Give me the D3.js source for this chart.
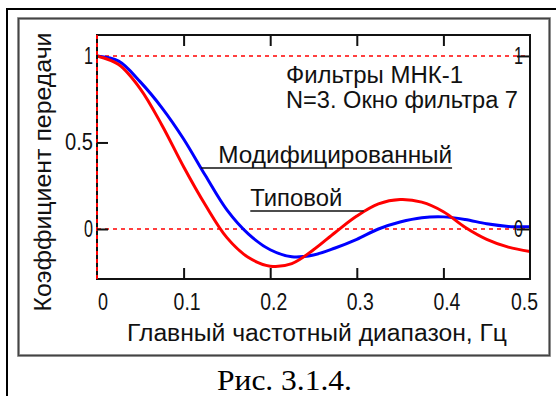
<!DOCTYPE html>
<html>
<head>
<meta charset="utf-8">
<script src="https://cdn.jsdelivr.net/npm/d3@7"></script>
<style>
  body { margin: 0; background: #fff; }
  svg { display: block; }
</style>
</head>
<body>
<script>
// frequency grid, Hz
var freq = [0, 0.025, 0.05, 0.075, 0.1, 0.125, 0.15, 0.175, 0.2, 0.225, 0.25,
            0.275, 0.3, 0.325, 0.35, 0.375, 0.4, 0.425, 0.45, 0.475, 0.5];
// "Типовой" (red)
var typical = [1.00, 0.95, 0.81, 0.60, 0.36, 0.14, -0.05, -0.165, -0.215, -0.20, -0.12,
               -0.02, 0.075, 0.145, 0.17, 0.155, 0.10, 0.01, -0.06, -0.105, -0.13];
// "Модифицированный" (blue)
var modified = [1.00, 0.97, 0.85, 0.70, 0.52, 0.31, 0.11, -0.03, -0.12, -0.16, -0.15,
                -0.11, -0.06, 0.0, 0.04, 0.065, 0.07, 0.055, 0.03, 0.015, 0.013];

var xTicks = [0, 0.1, 0.2, 0.3, 0.4, 0.5];
var xTickLabels = ["0", "0.1", "0.2", "0.3", "0.4", "0.5"];
var yTicksLeft = [1, 0.5, 0];
var yTickLabelsLeft = ["1", "0.5", "0"];
var yTicksRight = [1, 0];
var yTickLabelsRight = ["1", "0"];
var refLines = [1, 0];

var W = 556, H = 396;
var font = "'Liberation Sans', Arial, sans-serif";

var svg = d3.select("body").append("svg")
    .attr("width", W)
    .attr("height", H);

// frames
svg.append("rect")
    .attr("x", 7).attr("y", 9)
    .attr("width", 560).attr("height", 400)
    .style("fill", "none").style("stroke", "#000").style("stroke-width", 2);
svg.append("rect")
    .attr("x", 18.5).attr("y", 18.5)
    .attr("width", 531).attr("height", 337)
    .style("fill", "none").style("stroke", "#aaa").style("stroke-width", 3);
svg.append("rect")
    .attr("x", 18.5).attr("y", 18.5)
    .attr("width", 531).attr("height", 337)
    .style("fill", "none").style("stroke", "#444").style("stroke-width", 1.5);

var x = d3.scaleLinear().domain([0, 0.5]).range([97, 530]);
var y = d3.scaleLinear().domain([-0.289, 1.121]).range([279, 35]);

// red dashed reference lines
svg.selectAll("line.ref")
    .data(refLines)
    .enter().append("line")
    .attr("class", "ref")
    .attr("x1", x(0)).attr("x2", x(0.5))
    .attr("y1", function (d) { return y(d); })
    .attr("y2", function (d) { return y(d); })
    .style("stroke", "#f00").style("stroke-width", 1.5)
    .style("stroke-dasharray", "4,4");

// curves
var line = d3.line()
    .x(function (d) { return x(d[0]); })
    .y(function (d) { return y(d[1]); })
    .curve(d3.curveCatmullRom);

svg.append("path")
    .datum(d3.zip(freq, modified))
    .attr("d", line)
    .style("fill", "none").style("stroke", "#00f").style("stroke-width", 3);

svg.append("path")
    .datum(d3.zip(freq, typical))
    .attr("d", line)
    .style("fill", "none").style("stroke", "#f00").style("stroke-width", 3);

// plot box
svg.append("rect")
    .attr("x", x(0)).attr("y", y.range()[1])
    .attr("width", x(0.5) - x(0)).attr("height", y.range()[0] - y.range()[1])
    .style("fill", "none").style("stroke", "#111").style("stroke-width", 2);
// left edge: red dashed over black
svg.append("line")
    .attr("x1", x(0)).attr("x2", x(0))
    .attr("y1", y.range()[1]).attr("y2", y.range()[0])
    .style("stroke", "#f00").style("stroke-width", 2)
    .style("stroke-dasharray", "4,4");

// ticks (inward)
var inner = xTicks.slice(1, -1);
svg.append("g")
    .attr("transform", "translate(0," + y.range()[0] + ")")
    .call(d3.axisBottom(x).tickValues(inner).tickSize(-11).tickFormat(""))
    .call(function (g) { g.select(".domain").remove(); })
    .selectAll("line").style("stroke", "#111").style("stroke-width", 2);
svg.append("g")
    .attr("transform", "translate(0," + y.range()[1] + ")")
    .call(d3.axisTop(x).tickValues(inner).tickSize(-11).tickFormat(""))
    .call(function (g) { g.select(".domain").remove(); })
    .selectAll("line").style("stroke", "#111").style("stroke-width", 2);
svg.append("g")
    .attr("transform", "translate(" + x(0) + ",0)")
    .call(d3.axisLeft(y).tickValues([0.5, 0]).tickSize(-11).tickFormat(""))
    .call(function (g) { g.select(".domain").remove(); })
    .selectAll("line").style("stroke", "#111").style("stroke-width", 2);
svg.append("g")
    .attr("transform", "translate(" + x(0.5) + ",0)")
    .call(d3.axisRight(y).tickValues(yTicksRight).tickSize(-13).tickFormat(""))
    .call(function (g) { g.select(".domain").remove(); })
    .selectAll("line").style("stroke", "#111").style("stroke-width", 2);

// tick labels
function label(sel) {
    return sel.style("font-family", font).style("font-size", "23px").style("fill", "#111")
        .attr("lengthAdjust", "spacingAndGlyphs");
}
svg.selectAll("text.xt")
    .data(xTicks)
    .enter().append("text")
    .attr("class", "xt")
    .call(label)
    .attr("x", function (d, i) {
        if (i === 0) return x(d) + 1;
        if (i === xTicks.length - 1) return x(d) + 8;
        return x(d) + 3.5;
    })
    .attr("y", 310)
    .attr("text-anchor", function (d, i) {
        return i === 0 ? "start" : (i === xTicks.length - 1 ? "end" : "middle");
    })
    .attr("textLength", function (d, i) { return i === 0 ? 10 : 27; })
    .text(function (d, i) { return xTickLabels[i]; });

svg.selectAll("text.yl")
    .data(yTicksLeft)
    .enter().append("text")
    .attr("class", "yl")
    .call(label)
    .attr("x", x(0) - 4)
    .attr("y", function (d) { return y(d) + 8; })
    .attr("text-anchor", "end")
    .attr("textLength", function (d, i) { return yTickLabelsLeft[i].length > 1 ? 28 : 9; })
    .text(function (d, i) { return yTickLabelsLeft[i]; });

svg.selectAll("text.yr")
    .data(yTicksRight)
    .enter().append("text")
    .attr("class", "yr")
    .call(label)
    .attr("x", x(0.5) - 7)
    .attr("y", function (d) { return y(d) + 8; })
    .attr("text-anchor", "end")
    .attr("textLength", 9)
    .text(function (d, i) { return yTickLabelsRight[i]; });

// axis titles
svg.append("text")
    .call(label)
    .attr("x", 317).attr("y", 341)
    .attr("text-anchor", "middle")
    .attr("textLength", 380)
    .text("Главный частотный диапазон, Гц");

svg.append("text")
    .call(label)
    .attr("transform", "translate(51,172) rotate(-90)")
    .attr("text-anchor", "middle")
    .attr("textLength", 279)
    .text("Коэффициент передачи");

// title in the plot
svg.append("text")
    .call(label)
    .attr("x", 286).attr("y", 83)
    .attr("textLength", 177)
    .text("Фильтры МНК-1");
svg.append("text")
    .call(label)
    .attr("x", 286).attr("y", 108)
    .attr("textLength", 232)
    .text("N=3. Окно фильтра 7");

// curve labels with leader underlines (data units)
var notes = [
    { text: "Модифицированный", f0: 0.12, f1: 0.41, v: 0.353, tx: 0.14, len: 234 },
    { text: "Типовой", f0: 0.177, f1: 0.308, v: 0.104, tx: 0.177, len: 92 }
];
svg.selectAll("line.note")
    .data(notes)
    .enter().append("line")
    .attr("class", "note")
    .attr("x1", function (d) { return x(d.f0); })
    .attr("x2", function (d) { return x(d.f1); })
    .attr("y1", function (d) { return y(d.v); })
    .attr("y2", function (d) { return y(d.v); })
    .style("stroke", "#111").style("stroke-width", 1.5);
svg.selectAll("text.note")
    .data(notes)
    .enter().append("text")
    .attr("class", "note")
    .call(label)
    .attr("x", function (d) { return x(d.tx); })
    .attr("y", function (d) { return y(d.v) - 5; })
    .attr("textLength", function (d) { return d.len; })
    .text(function (d) { return d.text; });

// caption
svg.append("text")
    .attr("x", 284.5).attr("y", 390)
    .attr("text-anchor", "middle")
    .attr("textLength", 135)
    .attr("lengthAdjust", "spacingAndGlyphs")
    .style("font-family", "'Liberation Serif', 'Times New Roman', serif")
    .style("font-size", "30px")
    .style("fill", "#000")
    .text("Рис. 3.1.4.");
</script>
</body>
</html>
